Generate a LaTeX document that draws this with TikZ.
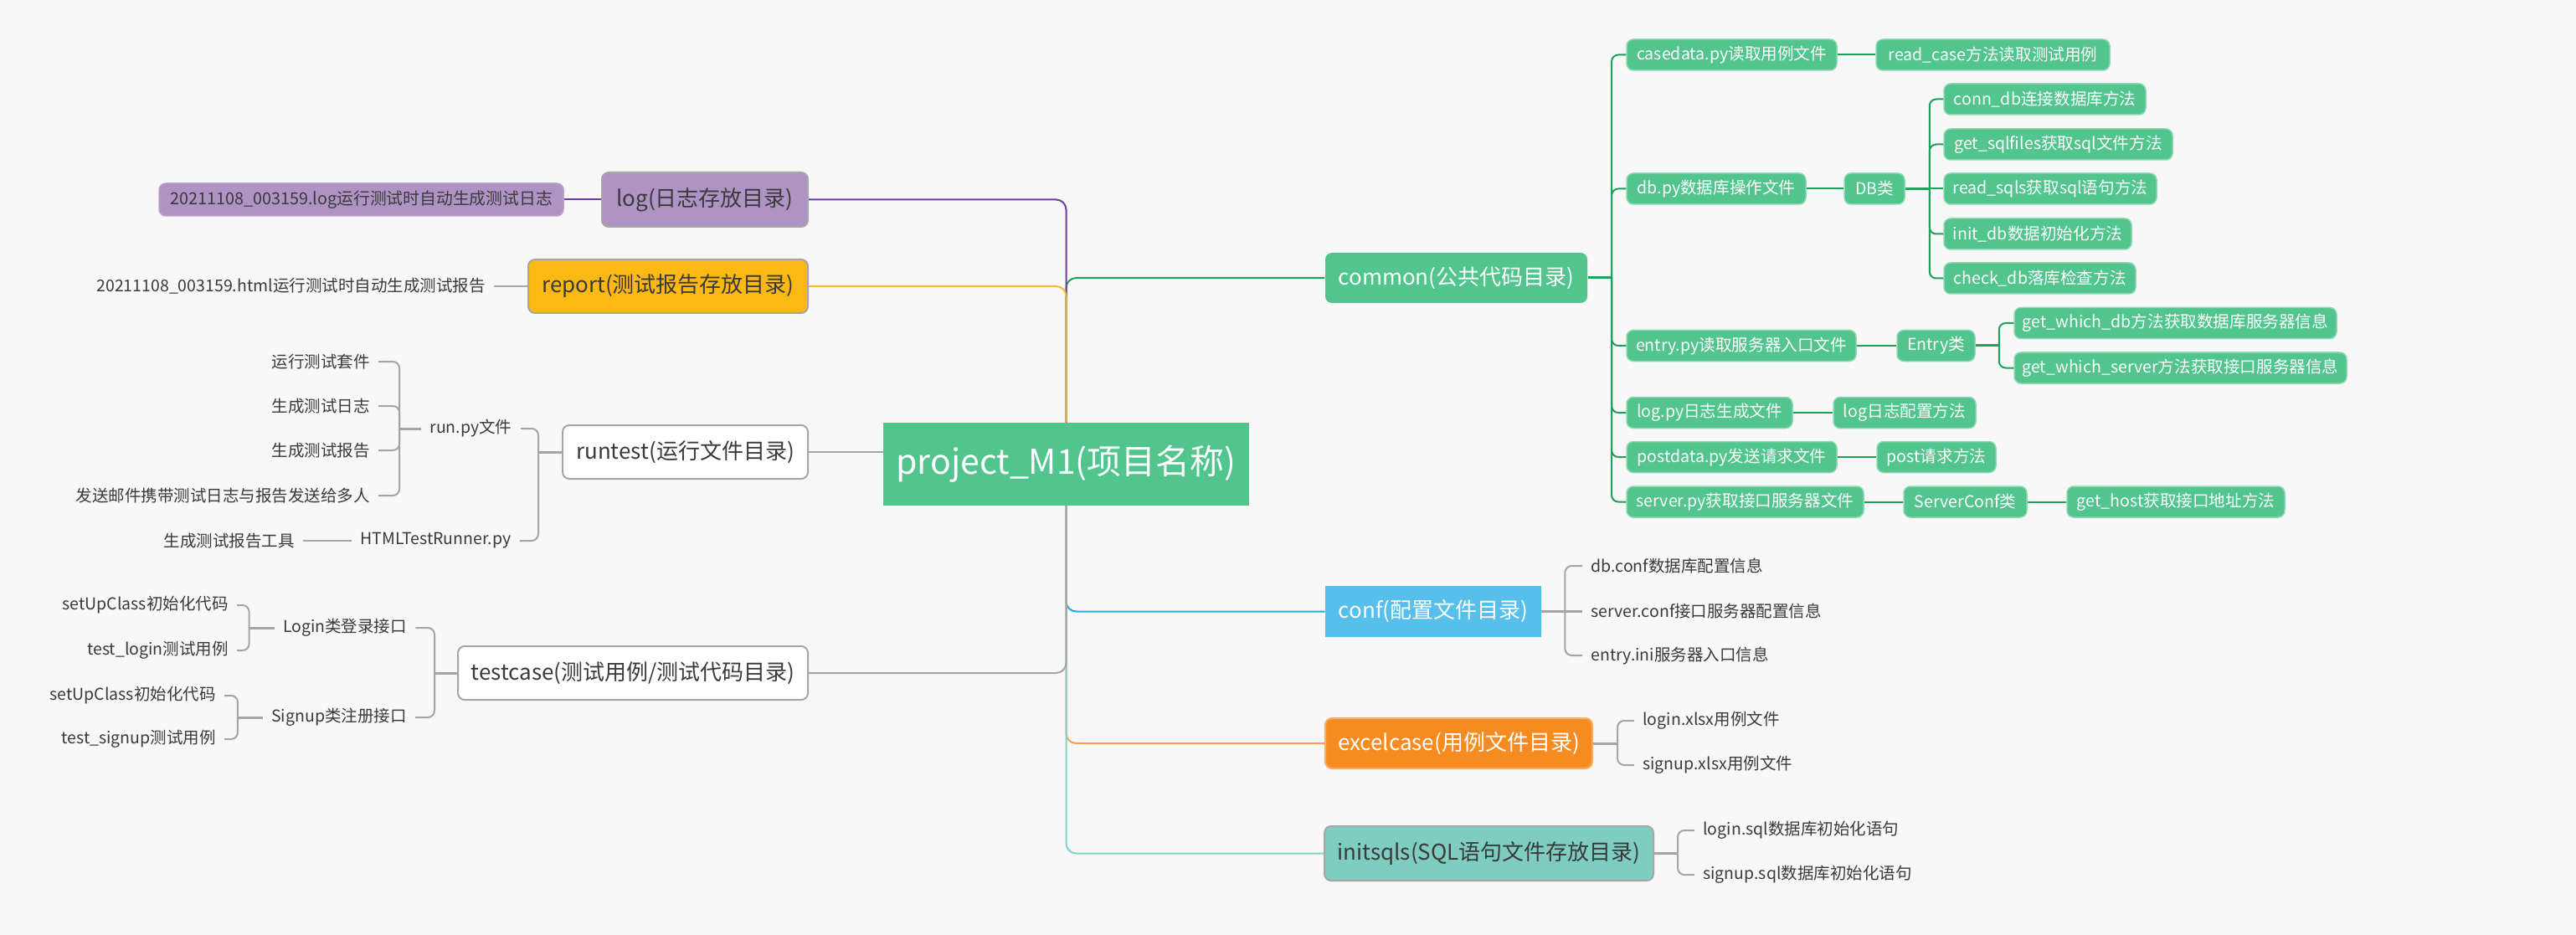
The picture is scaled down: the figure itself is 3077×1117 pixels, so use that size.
\documentclass[tikz,border=0pt]{standalone}
\usepackage{fontspec}
\setmainfont{Noto Sans CJK SC}
\definecolor{bg}{HTML}{F8F8F8}
\definecolor{txt}{HTML}{3A3A3A}
\definecolor{boxgray}{HTML}{A6A6A6}
\definecolor{gfill}{HTML}{52C48D}
\definecolor{gborder}{HTML}{8AD9B3}
\definecolor{gline}{HTML}{1BA35C}
\definecolor{logfill}{HTML}{AF93C4}
\definecolor{purpleline}{HTML}{6B3FA0}
\definecolor{repfill}{HTML}{FDB813}
\definecolor{yellowline}{HTML}{FBBA33}
\definecolor{conffill}{HTML}{56BFEB}
\definecolor{blueline}{HTML}{2AA9E0}
\definecolor{excelfill}{HTML}{F68C21}
\definecolor{orangeline}{HTML}{F8A04A}
\definecolor{tealfill}{HTML}{7ECDC0}
\definecolor{tealline}{HTML}{7DD5C9}
\definecolor{grayline}{HTML}{A5A5A5}
\begin{document}
\begin{tikzpicture}[x=0.5pt,y=-0.5pt,
  every node/.style={inner sep=0pt},
  rootbox/.style={fill=gfill, text=white, font=\fontsize{20.5}{24}\selectfont},
  topic/.style={text=txt, font=\fontsize{13}{15}\selectfont, rounded corners=4pt, line width=1pt},
  topicw/.style={text=white, font=\fontsize{13}{15}\selectfont, rounded corners=4pt, line width=1pt},
  gbox/.style={fill=gfill, draw=gborder, line width=0.75pt, rounded corners=4pt, text=white,
    minimum height=18.5pt, font=\fontsize{9.8}{12}\selectfont},
  leaftext/.style={text=txt, inner xsep=5pt, inner ysep=2pt, font=\fontsize{9.75}{12}\selectfont},
  conn/.style={line width=1pt, rounded corners=6pt},
  br/.style={line width=1pt, rounded corners=4pt},
  stem/.style={line width=1.5pt}]
\path[fill=bg] (0,0) rectangle (3077,1117);

% root
\node[rootbox, minimum width=218.5pt, minimum height=49.5pt] (root) at (1273.5,554.5) {project\_M1(项目名称)};

% left topics
\node[topic, fill=logfill, draw=boxgray, minimum width=123pt, minimum height=32.5pt] (log) at (842,238.5) {log(日志存放目录)};
\node[fill=logfill, draw=logfill!85!white, rounded corners=4pt, line width=0.75pt, text=txt,
  font=\fontsize{9.9}{12}\selectfont, minimum width=241.5pt, minimum height=19.5pt] (logleaf) at (431.5,238.5) {20211108\_003159.log运行测试时自动生成测试日志};
\node[topic, fill=repfill, draw=boxgray, minimum width=167pt, minimum height=32pt] (report) at (798,342) {report(测试报告存放目录)};
\node[leaftext, anchor=east] (reportleaf) at (590,342) {20211108\_003159.html运行测试时自动生成测试报告};

\node[topic, fill=white, draw=boxgray, minimum width=146.5pt, minimum height=32pt] (runtest) at (818.5,540) {runtest(运行文件目录)};
\node[leaftext] (runpy) at (562.5,512) {run.py文件};
\node[leaftext] (htmlrunner) at (520.5,646) {HTMLTestRunner.py};
\node[leaftext, anchor=east] (rp1) at (452,432) {运行测试套件};
\node[leaftext, anchor=east] (rp2) at (452,485) {生成测试日志};
\node[leaftext, anchor=east] (rp3) at (452,538) {生成测试报告};
\node[leaftext, anchor=east] (rp4) at (452,592) {发送邮件携带测试日志与报告发送给多人};
\node[leaftext, anchor=east] (htmltool) at (362,646) {生成测试报告工具};

\node[topic, fill=white, draw=boxgray, minimum width=209pt, minimum height=32pt] (testcase) at (756,804) {testcase(测试用例/测试代码目录)};
\node[leaftext] (login) at (412,750) {Login类登录接口};
\node[leaftext] (signup) at (405,857) {Signup类注册接口};
\node[leaftext, anchor=east] (tc1) at (283,723) {setUpClass初始化代码};
\node[leaftext, anchor=east] (tc2) at (283,777) {test\_login测试用例};
\node[leaftext, anchor=east] (tc3) at (268,831) {setUpClass初始化代码};
\node[leaftext, anchor=east] (tc4) at (268,883) {test\_signup测试用例};

% right topics
\node[topicw, fill=gfill, minimum width=156.5pt, minimum height=30pt] (common) at (1739.5,332) {common(公共代码目录)};
\node[gbox, minimum width=125.5pt] (casedata) at (2068.5,65.5) {casedata.py读取用例文件};
\node[gbox, minimum width=139.5pt] (readcase) at (2380.5,65.5) {read\_case方法读取测试用例};
\node[gbox, minimum width=107pt] (dbpy) at (2050,225.5) {db.py数据库操作文件};
\node[gbox, minimum width=36pt] (dbclass) at (2239,225.5) {DB类};
\node[gbox, minimum width=120.5pt] (conndb) at (2442.5,118.5) {conn\_db连接数据库方法};
\node[gbox, minimum width=136.5pt] (getsql) at (2458.5,172.5) {get\_sqlfiles获取sql文件方法};
\node[gbox, minimum width=127pt] (readsqls) at (2449,225.5) {read\_sqls获取sql语句方法};
\node[gbox, minimum width=112pt] (initdb) at (2434,279.5) {init\_db数据初始化方法};
\node[gbox, minimum width=114.5pt] (checkdb) at (2436.5,332.5) {check\_db落库检查方法};
\node[gbox, minimum width=137pt] (entrypy) at (2080,413) {entry.py读取服务器入口文件};
\node[gbox, minimum width=46.5pt] (entryclass) at (2312.5,413) {Entry类};
\node[gbox, minimum width=192.5pt] (whichdb) at (2598.5,386) {get\_which\_db方法获取数据库服务器信息};
\node[gbox, minimum width=198.5pt] (whichserver) at (2604.5,439.5) {get\_which\_server方法获取接口服务器信息};
\node[gbox, minimum width=99pt] (logpy) at (2042,493) {log.py日志生成文件};
\node[gbox, minimum width=85pt] (logconf) at (2275,493) {log日志配置方法};
\node[gbox, minimum width=125.5pt] (postdata) at (2068.5,546) {postdata.py发送请求文件};
\node[gbox, minimum width=71pt] (post) at (2313,546) {post请求方法};
\node[gbox, minimum width=141.5pt] (serverpy) at (2084.5,599.5) {server.py获取接口服务器文件};
\node[gbox, minimum width=73.5pt] (serverconf) at (2347.5,599.5) {ServerConf类};
\node[gbox, minimum width=130pt] (gethost) at (2599,599.5) {get\_host获取接口地址方法};

\node[fill=conffill, text=white, font=\fontsize{13}{15}\selectfont, minimum width=129pt, minimum height=30.5pt] (conf) at (1712,730.5) {conf(配置文件目录)};
\node[leaftext, anchor=west] (conf1) at (1890,676) {db.conf数据库配置信息};
\node[leaftext, anchor=west] (conf2) at (1890,730.5) {server.conf接口服务器配置信息};
\node[leaftext, anchor=west] (conf3) at (1890,783) {entry.ini服务器入口信息};

\node[topicw, fill=excelfill, draw=excelfill!70!white, minimum width=159.5pt, minimum height=30pt] (excel) at (1742.5,888) {excelcase(用例文件目录)};
\node[leaftext, anchor=west] (ex1) at (1952,861) {login.xlsx用例文件};
\node[leaftext, anchor=west] (ex2) at (1952,914) {signup.xlsx用例文件};

\node[topic, fill=tealfill, draw=boxgray, minimum width=196.5pt, minimum height=32.5pt] (initsqls) at (1778.5,1019.5) {initsqls(SQL语句文件存放目录)};
\node[leaftext, anchor=west] (is1) at (2024,992) {login.sql数据库初始化语句};
\node[leaftext, anchor=west] (is2) at (2024,1045) {signup.sql数据库初始化语句};

% main trunk
\draw[conn, gline] (root.north) |- (common.west);
\draw[conn, purpleline] (root.north) |- (log.east);
\draw[conn, yellowline] (root.north) |- (report.east);
\draw[conn, blueline] (root.south) |- (conf.west);
\draw[conn, orangeline] (root.south) |- (excel.west);
\draw[conn, tealline] (root.south) |- (initsqls.west);
\draw[conn, grayline] (root.south) |- (testcase.east);
\draw[conn, grayline] (root.west |- runtest.east) -- (runtest.east);

% left branches
\draw[conn, purpleline] (log.west) -- (logleaf.east);
\draw[conn, grayline] (report.west) -- (reportleaf.east);

\coordinate (rj) at ([xshift=-14pt]runtest.west);
\draw[stem, grayline] (runtest.west) -- (rj);
\draw[br, grayline] (rj) |- (runpy.east);
\draw[br, grayline] (rj) |- (htmlrunner.east);
\coordinate (pj) at ([xshift=-13pt]runpy.west);
\draw[stem, grayline] (runpy.west) -- (pj);
\foreach \n in {rp1,rp2,rp3,rp4} \draw[br, grayline] (pj) |- (\n.east);
\draw[br, grayline] (htmlrunner.west) -- (htmltool.east);

\coordinate (tj) at ([xshift=-13.5pt]testcase.west);
\draw[stem, grayline] (testcase.west) -- (tj);
\draw[br, grayline] (tj) |- (login.east);
\draw[br, grayline] (tj) |- (signup.east);
\coordinate (lj) at ([xshift=-15pt]login.west);
\draw[stem, grayline] (login.west) -- (lj);
\draw[br, grayline] (lj) |- (tc1.east);
\draw[br, grayline] (lj) |- (tc2.east);
\coordinate (sj) at ([xshift=-15pt]signup.west);
\draw[stem, grayline] (signup.west) -- (sj);
\draw[br, grayline] (sj) |- (tc3.east);
\draw[br, grayline] (sj) |- (tc4.east);

% right branches
\coordinate (cj) at ([xshift=14pt]common.east);
\draw[stem, gline] (common.east) -- (cj);
\foreach \n in {casedata,dbpy,entrypy,logpy,postdata,serverpy} \draw[br, gline] (cj) |- (\n.west);
\draw[br, gline] (casedata.east) -- (readcase.west);
\draw[br, gline] (dbpy.east) -- (dbclass.west);
\coordinate (dj) at ([xshift=14.5pt]dbclass.east);
\draw[stem, gline] (dbclass.east) -- (dj);
\foreach \n in {conndb,getsql,initdb,checkdb} \draw[br, gline] (dj) |- (\n.west);
\draw[br, gline] (dj) -- (readsqls.west);
\draw[br, gline] (entrypy.east) -- (entryclass.west);
\coordinate (ej) at ([xshift=14pt]entryclass.east);
\draw[stem, gline] (entryclass.east) -- (ej);
\draw[br, gline] (ej) |- (whichdb.west);
\draw[br, gline] (ej) |- (whichserver.west);
\draw[br, gline] (logpy.east) -- (logconf.west);
\draw[br, gline] (postdata.east) -- (post.west);
\draw[br, gline] (serverpy.east) -- (serverconf.west);
\draw[br, gline] (serverconf.east) -- (gethost.west);

\coordinate (fj) at ([xshift=14pt]conf.east);
\draw[stem, grayline] (conf.east) -- (conf2.west);
\draw[br, grayline] (fj) |- (conf1.west);
\draw[br, grayline] (fj) |- (conf3.west);

\coordinate (xj) at ([xshift=14.5pt]excel.east);
\draw[stem, grayline] (excel.east) -- (xj);
\draw[br, grayline] (xj) |- (ex1.west);
\draw[br, grayline] (xj) |- (ex2.west);

\coordinate (ij) at ([xshift=14pt]initsqls.east);
\draw[stem, grayline] (initsqls.east) -- (ij);
\draw[br, grayline] (ij) |- (is1.west);
\draw[br, grayline] (ij) |- (is2.west);
\end{tikzpicture}
\end{document}
